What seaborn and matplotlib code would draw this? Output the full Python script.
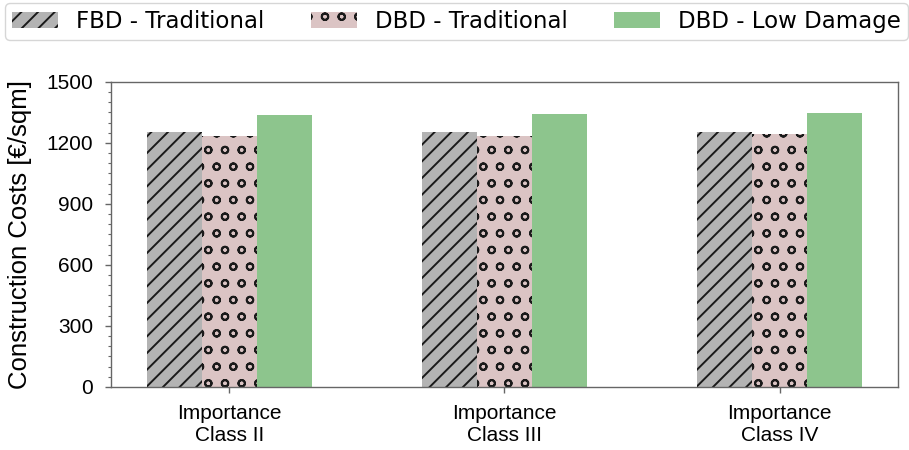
"""
Construction costs per importance class, FBD vs DBD designs.
"""
import matplotlib
matplotlib.use("Agg")
import matplotlib.pyplot as plt
from matplotlib.patches import Patch
from matplotlib.ticker import MultipleLocator
import pandas as pd
import seaborn as sns

classes = ["Importance\nClass II", "Importance\nClass III", "Importance\nClass IV"]
series = ["FBD - Traditional", "DBD - Traditional", "DBD - Low Damage"]
fbd_traditional = [1252, 1252, 1252]
dbd_traditional = [1234, 1236, 1242]
dbd_low_damage = [1338, 1342, 1346]

colors = ["#b3b3b3", "#dbc4c4", "#8dc58d"]
hatches = ["//", "o", ""]

df = pd.DataFrame({
    "cls": classes * 3,
    "design": [s for s in series for _ in classes],
    "cost": fbd_traditional + dbd_traditional + dbd_low_damage,
})


def main():
    sns.set_theme(style="ticks")
    plt.rcParams["font.family"] = ["Liberation Sans", "DejaVu Sans"]
    plt.rcParams["hatch.linewidth"] = 1.4
    plt.rcParams["text.color"] = "black"
    plt.rcParams["axes.labelcolor"] = "black"
    plt.rcParams["xtick.color"] = "black"
    plt.rcParams["ytick.color"] = "black"

    fig = plt.figure(figsize=(9.09, 4.5), dpi=100)
    ax = fig.add_axes([0.1221, 0.14, 0.8658, 0.6778])

    sns.barplot(
        data=df, x="cls", y="cost", hue="design", hue_order=series,
        palette=colors, width=0.6, saturation=1, legend=False, ax=ax,
        errorbar=None,
    )

    for cont, hatch in zip(ax.containers, hatches):
        for bar in cont:
            bar.set_hatch(hatch)
            bar.set_edgecolor("#1a1a1a")
            bar.set_linewidth(0)

    ax.set_xlim(-0.43, 2.43)
    ax.set_ylim(0, 1500)
    ax.yaxis.set_major_locator(MultipleLocator(300))
    ax.yaxis.set_minor_locator(MultipleLocator(50))
    ax.tick_params(axis="both", which="major", labelsize=15, length=4.5,
                   width=1, color="#666666")
    ax.tick_params(axis="y", which="major", pad=8.5)
    ax.tick_params(axis="x", which="major", pad=7.5)
    ax.tick_params(axis="y", which="minor", length=2.5, width=0.8,
                   color="#666666")
    for sp in ax.spines.values():
        sp.set_visible(True)
        sp.set_color("#666666")
        sp.set_linewidth(1)

    ax.set_xlabel("")
    ax.set_ylabel("Construction Costs [€/sqm]", fontsize=18.5, labelpad=10)

    handles = [Patch(facecolor=c, hatch=h, edgecolor="#1a1a1a", linewidth=0)
               for c, h in zip(colors, hatches)]
    fig.legend(
        handles, series, loc="upper left", ncol=3, mode="expand",
        bbox_to_anchor=(0.0055, 0.9933, 0.9934, 0), borderaxespad=0,
        borderpad=0.3, prop={"family": "DejaVu Sans", "size": 16.5},
        frameon=True, fancybox=True,
    )

    fig.savefig("out.png", dpi=100)


if __name__ == "__main__":
    main()
